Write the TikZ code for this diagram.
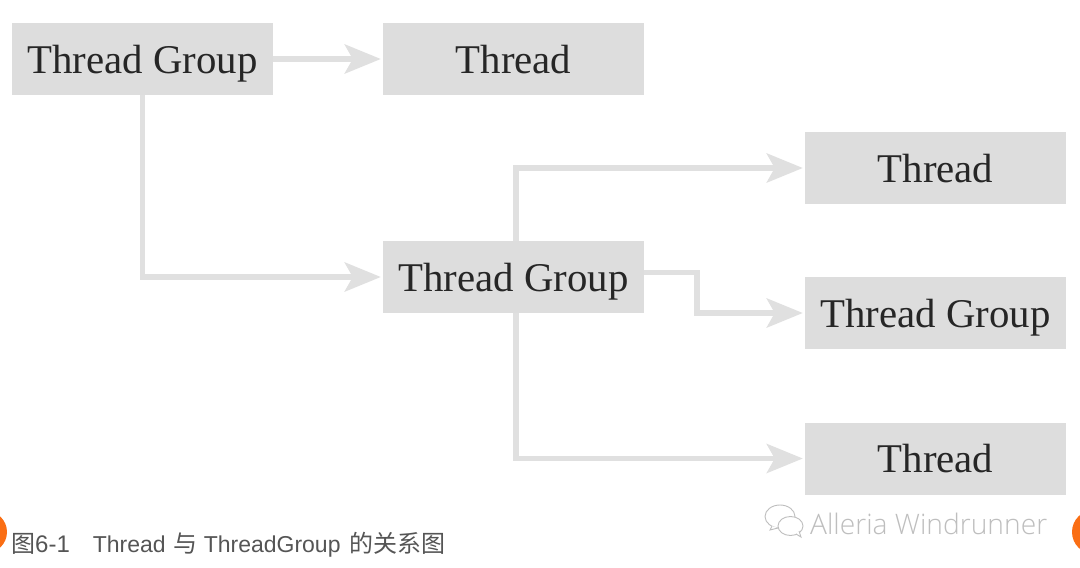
\documentclass[tikz,border=0pt]{standalone}
\usepackage{fontspec}
\setmainfont{Liberation Serif}
\newfontfamily\capfont{Liberation Sans}
\newfontfamily\cjk{Noto Sans CJK SC}
\newfontfamily\wmfont{Open Sans Light}
\usetikzlibrary{arrows.meta,calc}
\definecolor{boxgray}{RGB}{221,221,221}
\definecolor{linegray}{RGB}{224,224,224}
\definecolor{capgray}{RGB}{85,85,85}
\definecolor{wmgray}{RGB}{190,190,190}
\definecolor{dotorange}{RGB}{250,110,20}
\tikzset{
  box/.style={fill=boxgray,draw=none,minimum width=261pt,minimum height=72pt,inner sep=0pt,
    text height=38pt,text depth=10pt,
    font=\fontsize{40.8}{40.8}\selectfont,text=black!85,anchor=center},
  conn/.style={draw=linegray,line width=5.5pt,shorten >=2pt,-{Stealth[length=36pt,width=29pt,inset=8pt,fill=linegray]}},
  bubble/.style={draw=wmgray,line width=0.9pt,fill=white}
}
\begin{document}
\begin{tikzpicture}[x=1pt,y=-1pt]
\useasboundingbox (0,0) rectangle (1080,568);
\fill[white] (0,0) rectangle (1080,568);
\begin{scope}
\clip (0,0) rectangle (1080,568);
\fill[dotorange] (-14,532) circle (21);
\fill[dotorange] (1094,532) circle (22);
\end{scope}
\node[box] (a) at (142.5,59) {Thread Group};
\node[box] (b) at (513.5,59) {Thread};
\node[box] (c) at (513.5,277) {Thread Group};
\node[box] (d) at (935.5,168) {Thread};
\node[box] (e) at (935.5,313) {Thread Group};
\node[box] (f) at (935.5,458.5) {Thread};
\draw[conn] (a.east) -- (b.west);
\draw[conn] (a.south) |- (c.west);
\draw[conn] ($(c.north)+(2.5,0)$) |- (d.west);
\draw[conn] ($(c.east)+(0,-4.5)$) -| ($(c.east)!0.33!(e.west)$) |- (e.west);
\draw[conn] ($(c.south)+(2.5,0)$) |- (f.west);
\node[anchor=base west,inner sep=0pt,text=capgray,font=\capfont\fontsize{23}{23}\selectfont] (cap) at (11,552)
  {{\cjk\fontsize{24}{24}\selectfont 图}{\fontsize{24}{24}\selectfont 6-1}\hspace{23pt}Thread\hspace{8pt}{\cjk\fontsize{24}{24}\selectfont 与}\hspace{6pt}ThreadGroup\hspace{9pt}{\cjk\fontsize{24}{24}\selectfont 的关系图}};
\draw[bubble] (780,516.5) ellipse (15 and 11.5);
\draw[bubble] (772,526) -- (770,530) -- (778,528);
\draw[bubble] (790.5,526) ellipse (12.5 and 9.5);
\draw[bubble] (796,534) -- (801,537) -- (799,531);
\node[anchor=base west,inner sep=0pt,text=wmgray,font=\wmfont\fontsize{28.2}{28.2}\selectfont] (wm) at (810,534) {Alleria Windrunner};
\end{tikzpicture}
\end{document}
